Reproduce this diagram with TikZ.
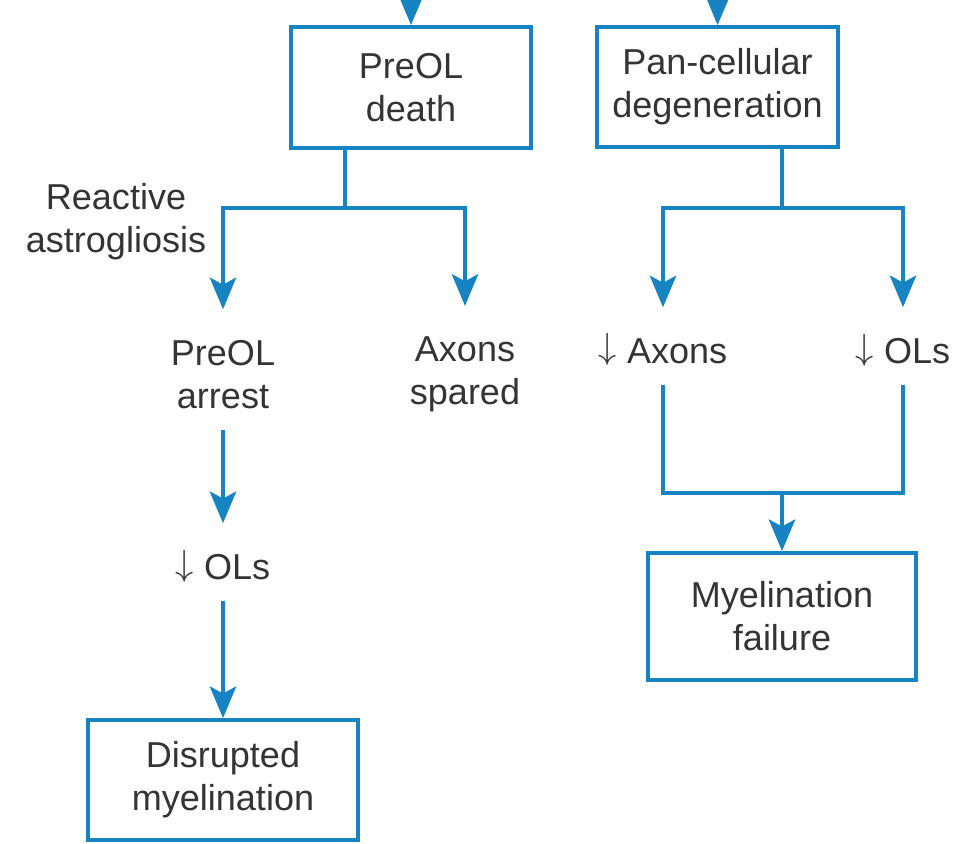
\documentclass[tikz,border=0pt]{standalone}
\usepackage{fontspec}
\setmainfont{Liberation Sans}
\usetikzlibrary{arrows.meta}
\definecolor{flowblue}{RGB}{22,132,194}
\definecolor{textgray}{RGB}{52,52,52}
\newcommand{\dn}{\smash{\raisebox{0.12em}{$\downarrow$}}}

\begin{document}
\begin{tikzpicture}[x=0.02cm, y=-0.02cm,
  every node/.style={font=\fontsize{20.5}{24.4}\selectfont, text=textgray, align=center},
  box/.style={draw=flowblue, line width=2.2pt, inner sep=0pt},
  txt/.style={inner xsep=2pt, inner ysep=12pt},
  link/.style={flowblue, line width=2.2pt},
  flow/.style={link, -{Stealth[length=18pt, width=15pt, inset=4pt]}},
  totxt/.style={flow, shorten >=5.5pt}]

  % frame of the page
  \useasboundingbox (0,0) rectangle (959,843);
  \clip (0,0) rectangle (959,843);

  % top boxes
  \node[box, minimum width=4.8cm, minimum height=2.42cm] (death) at (411,87.5) {PreOL\\death};
  \node[box, minimum width=4.82cm, minimum height=2.4cm] (pan) at (717.5,87) {Pan-cellular\\degeneration};

  % incoming arrows, cut by the top edge
  \coordinate (inL) at (411,-40);
  \coordinate (inR) at (718,-40);
  \draw[flow] (inL) -- (death.north);
  \draw[flow] (inR) -- (pan.north);

  % left branch
  \node[txt] (glia) at (116,222) {Reactive\\astrogliosis};
  \node[txt] (arrest) at (223,374.5) {PreOL\\arrest};
  \node[txt] (spared) at (465,374.5) {Axons\\spared};
  \node[txt] (olsL) at (223,567) {\dn\ OLs};
  \node[box, minimum width=5.4cm, minimum height=2.4cm] (disrupt) at (223,780) {Disrupted\\myelination};

  \coordinate (splitL) at (345,208);
  \draw[link] (death.south -| splitL) -- (splitL);
  \draw[totxt] (splitL) -| (arrest.north);
  \draw[totxt] (splitL) -| (spared.north);
  \draw[totxt] (arrest.south) -- (olsL.north);
  \draw[flow] (olsL.south) -- (disrupt.north);

  % right branch
  \node[txt] (axons) at (663,351) {\dn\ Axons};
  \node[txt] (olsR) at (903,351) {\dn\ OLs};
  \node[box, minimum width=5.36cm, minimum height=2.54cm] (fail) at (782,616.5) {Myelination\\failure};

  \coordinate (splitR) at (782,208);
  \draw[link] (pan.south -| splitR) -- (splitR);
  \draw[totxt] (splitR) -| (axons.north);
  \draw[totxt] (splitR) -| (olsR.north);

  \coordinate (join) at (782,493);
  \draw[link] (axons.south) |- (join) -| (olsR.south);
  \draw[flow] (join) -- (fail.north);
\end{tikzpicture}
\end{document}
